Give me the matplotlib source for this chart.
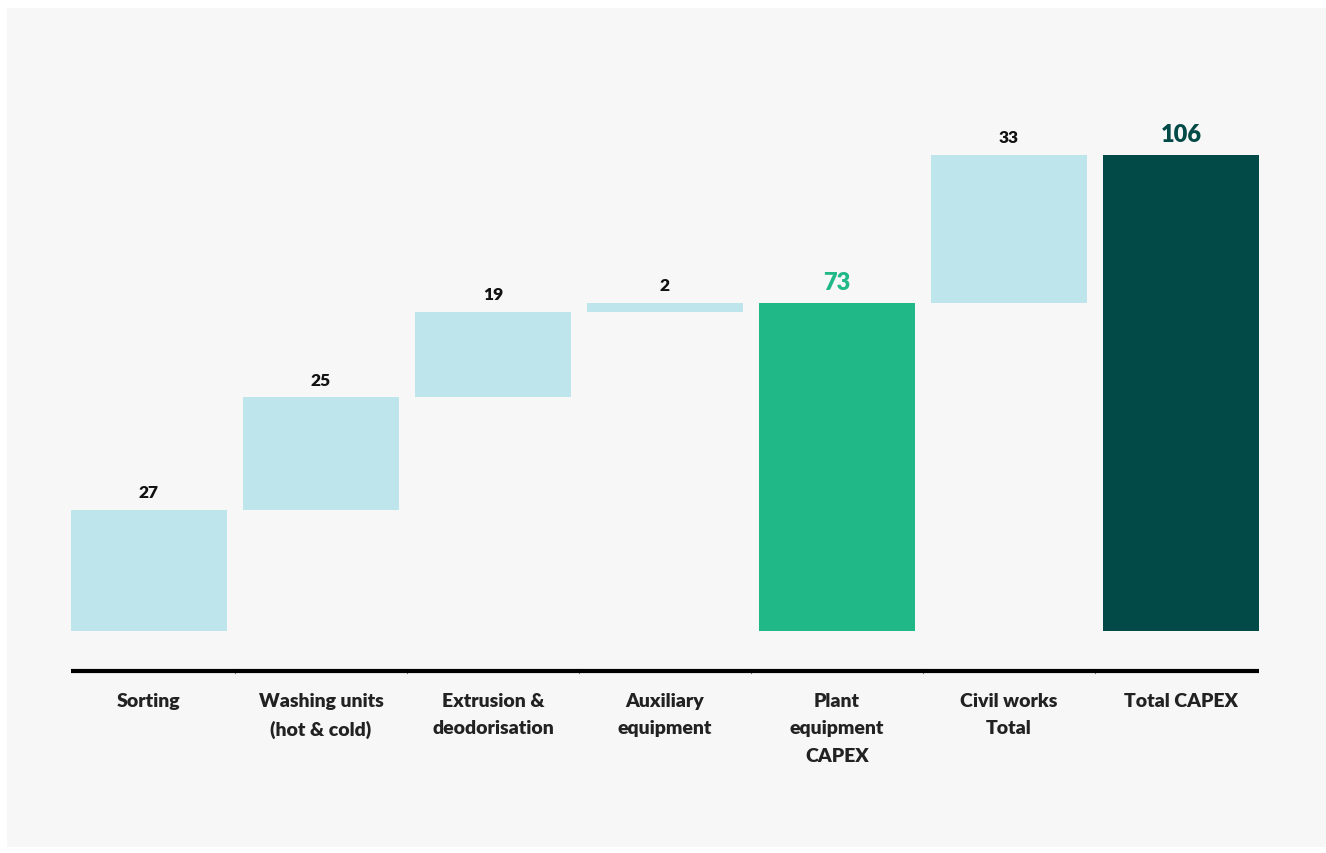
import numpy as np
import matplotlib
import matplotlib.pyplot as plt
from matplotlib.patches import Rectangle

plt.rcParams['font.family'] = ['Lato', 'DejaVu Sans']

# Data
categories = ['Sorting', 'Washing units\n(hot & cold)', 'Extrusion &\ndeodorisation',
              'Auxiliary\nequipment', 'Plant\nequipment\nCAPEX', 'Civil works\nTotal',
              'Total CAPEX']
values = [27, 25, 19, 2, 73, 33, 106]
kinds = ['step', 'step', 'step', 'step', 'total', 'step', 'total']

light = '#bfe5ec'
green = '#21b887'
dark = '#024a47'

# waterfall bottoms
bottoms = []
running = 0
for v, k in zip(values, kinds):
    if k == 'total':
        bottoms.append(0)
        running = v
    else:
        bottoms.append(running)
        running += v

bar_colors = [light, light, light, light, green, light, dark]
label_colors = ['#111111'] * 4 + [green, '#111111', dark]
label_sizes = [12.5] * 4 + [17, 12.5, 17]

fig = plt.figure(figsize=(13.26, 8.54), dpi=100)
fig.patch.set_facecolor('white')
fig.patches.append(Rectangle((7/1326, 6/854), 1319/1326, 839/854,
                             transform=fig.transFigure, facecolor='#f7f7f7',
                             edgecolor='none', zorder=-10))

ax = fig.add_axes([71/1326, 0.2132, 1188/1326, 0.6674])
ax.set_facecolor('none')

x = np.arange(len(values))
w = 0.905
ax.bar(x, values, bottom=bottoms, width=w, color=bar_colors, edgecolor='none')

for xi, v, b, c, s in zip(x, values, bottoms, label_colors, label_sizes):
    ax.annotate(str(v), (xi, b + v), xytext=(0, 7), textcoords='offset points',
                ha='center', va='bottom', fontsize=s, fontweight='heavy', color=c)

ax.set_xlim(-w/2, len(values) - 1 + w/2)
ax.set_ylim(-8.9, 118)

for sp in ['top', 'right', 'left']:
    ax.spines[sp].set_visible(False)
ax.spines['bottom'].set_linewidth(3)
ax.spines['bottom'].set_color('black')
ax.spines['bottom'].set_capstyle('butt')
# thin separators inside the baseline
for b in np.arange(0.5, len(values) - 1, 1.0):
    ax.axvline(b, ymin=-0.0035, ymax=0.0035, color='#777777', lw=0.8, clip_on=False)

ax.set_yticks([])
ax.set_xticks(x)
ax.set_xticklabels(categories, fontsize=14, fontweight='heavy', color='#222222',
                   linespacing=1.75)
ax.tick_params(axis='x', length=0, pad=15)

fig.savefig('out.png', dpi=100)
